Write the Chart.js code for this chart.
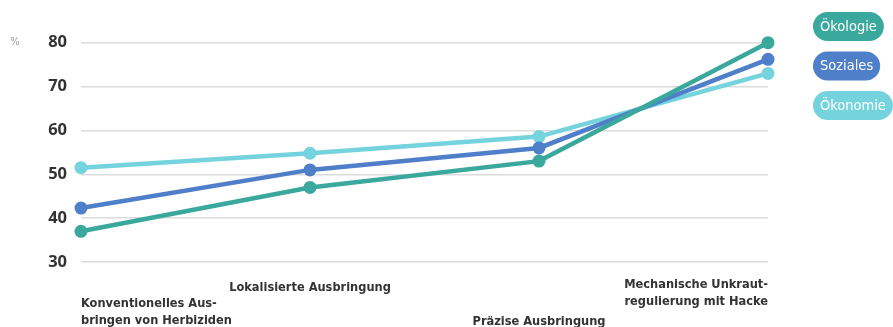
<!DOCTYPE html>
<html>
<head>
<meta charset="utf-8">
<script src="https://cdn.jsdelivr.net/npm/chart.js@4/dist/chart.umd.min.js"></script>
<style>
  html, body { margin: 0; padding: 0; background: #ffffff; }
  #wrap { position: relative; width: 893px; height: 327px; }
</style>
</head>
<body>
<div id="wrap"><canvas id="chart"></canvas></div>
<script>
// Categories (multi-line labels)
const categories = [
  ['Konventionelles Aus-', 'bringen von Herbiziden'],
  ['Lokalisierte Ausbringung'],
  ['Präzise Ausbringung'],
  ['Mechanische Unkraut-', 'regulierung mit Hacke']
];

// Series values in %
const oekologie = [37, 47, 53, 80];
const soziales  = [42.3, 51, 56, 76.2];
const oekonomie = [51.5, 54.8, 58.6, 73];

const seriesNames = ['Ökologie', 'Soziales', 'Ökonomie'];
const yTicks = [30, 40, 50, 60, 70, 80];
const unitLabel = '%';

const colors = ['#3aa89c', '#4e7fc8', '#74d3dd'];

const LABEL_FONT = 'bold 12.7px "DejaVu Sans Condensed", "DejaVu Sans", sans-serif';
const PILL_FONT = '14.5px "DejaVu Sans Condensed", "DejaVu Sans", sans-serif';

// Staggered category labels under the plot
const categoryLabelPlugin = {
  id: 'categoryLabels',
  afterDraw(chart) {
    const ctx = chart.ctx;
    const x = chart.scales.x;
    const layout = [
      { align: 'left',   top: 304 },
      { align: 'center', top: 288 },
      { align: 'center', top: 322 },
      { align: 'right',  top: 285 }
    ];
    ctx.save();
    ctx.font = LABEL_FONT;
    ctx.fillStyle = '#333333';
    ctx.textBaseline = 'middle';
    categories.forEach((lines, i) => {
      const px = x.getPixelForValue(i);
      const l = layout[i];
      ctx.textAlign = l.align;
      lines.forEach((t, j) => ctx.fillText(t, px, l.top + j * 16.5));
    });
    // unit label next to the top tick
    ctx.font = '10px "DejaVu Sans", sans-serif';
    ctx.fillStyle = '#9a9a9a';
    ctx.textAlign = 'center';
    ctx.fillText(unitLabel, 15, chart.scales.y.getPixelForValue(yTicks[yTicks.length - 1]));
    ctx.restore();
  }
};

// Pill-shaped legend at the top right
const pillLegendPlugin = {
  id: 'pillLegend',
  afterDraw(chart) {
    const ctx = chart.ctx;
    const left = 813, top0 = 12, h = 29, gap = 39.5, padX = 7;
    ctx.save();
    ctx.font = PILL_FONT;
    ctx.textBaseline = 'middle';
    ctx.textAlign = 'left';
    chart.data.datasets.forEach((ds, i) => {
      const w = ctx.measureText(ds.label).width + padX * 2;
      const y = top0 + i * gap;
      ctx.fillStyle = ds.borderColor;
      ctx.beginPath();
      ctx.roundRect(left, y, w, h, h / 2);
      ctx.fill();
      ctx.fillStyle = '#ffffff';
      ctx.fillText(ds.label, left + padX, y + h / 2 + 0.5);
    });
    ctx.restore();
  }
};

const seriesData = [oekologie, soziales, oekonomie];

new Chart(document.getElementById('chart'), {
  type: 'line',
  data: {
    labels: categories,
    datasets: seriesNames.map((name, i) => ({
      label: name,
      data: seriesData[i],
      borderColor: colors[i],
      backgroundColor: colors[i],
      pointBackgroundColor: colors[i],
      pointBorderWidth: 0,
      pointRadius: 6.5,
      borderWidth: 4.5,
      tension: 0,
      clip: false
    }))
  },
  options: {
    responsive: true,
    maintainAspectRatio: false,
    devicePixelRatio: 1,
    animation: false,
    layout: { padding: { top: 42.7, bottom: 65, left: 0, right: 125 } },
    plugins: {
      legend: { display: false },
      tooltip: { enabled: false }
    },
    scales: {
      x: {
        type: 'category',
        display: false,
        offset: false
      },
      y: {
        min: 30,
        max: 80,
        afterFit(scale) { scale.width = 81; },
        afterBuildTicks(scale) { scale.ticks = yTicks.map(v => ({ value: v })); },
        border: { display: false },
        grid: { color: '#dcdcdc', lineWidth: 1.5, drawTicks: false },
        ticks: {
          padding: 14,
          color: '#333333',
          font: { family: '"Open Sans", sans-serif', size: 16.5, weight: 'bold' }
        }
      }
    }
  },
  plugins: [categoryLabelPlugin, pillLegendPlugin]
});
</script>
</body>
</html>
